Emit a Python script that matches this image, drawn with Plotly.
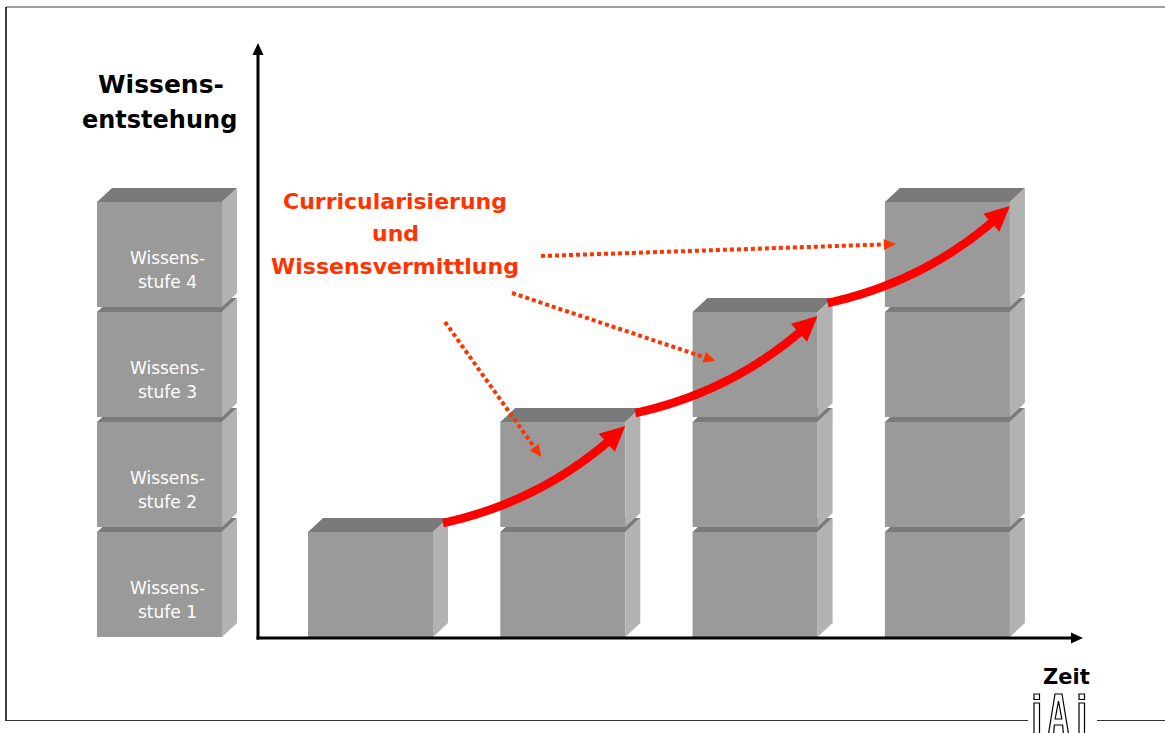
import numpy as np
import plotly.graph_objects as go

# ---------------- data ----------------
time_steps = ["t1", "t2", "t3", "t4"]          # Zeit
levels = [1, 2, 3, 4]                          # Wissensstufen je Zeitschritt
legend_levels = [1, 2, 3, 4]
stufe_prefix = "Wissens-"
stufe_labels = ["stufe 1", "stufe 2", "stufe 3", "stufe 4"]
y_title_lines = ["Wissens-", "entstehung"]
x_title = "Zeit"
process_lines = ["Curricularisierung", "und", "Wissensvermittlung"]
# dotted pointers: (start x, start y, target column index, target offset x, offset y)
pointer_starts = [(445, 322), (512, 293), (541, 256)]
pointer_targets = [(1, 41, 35), (2, 23, 49), (3, 11, 42)]

# ---------------- layout constants (pixels) ----------------
W, H = 1165, 733
BASE_Y = 637
CUBE_W, CUBE_H, DX, DY = 125, 105, 15, 14
PITCH = 110
COL_X0, COL_PITCH = 308, 192.3
LEG_X = 97
FRONT, TOP, SIDE = "#9a9a9a", "#7a7a7a", "#b2b2b2"
RED, ORANGE = "#ff0000", "#ff3300"
FONT = "DejaVu Sans"

shapes = []
annotations = []


def front_top(level):
    return BASE_Y - CUBE_H - (level - 1) * PITCH


def cube(x, level):
    ft = front_top(level)
    fb = ft + CUBE_H
    shapes.append(dict(type="rect", x0=x, x1=x + CUBE_W, y0=ft, y1=fb,
                       fillcolor=FRONT, line=dict(width=0)))
    shapes.append(dict(type="path",
                       path=f"M {x} {ft} L {x+CUBE_W} {ft} L {x+CUBE_W+DX} {ft-DY} L {x+DX} {ft-DY} Z",
                       fillcolor=TOP, line=dict(width=0)))
    shapes.append(dict(type="path",
                       path=f"M {x+CUBE_W} {ft} L {x+CUBE_W+DX} {ft-DY} L {x+CUBE_W+DX} {fb-DY} L {x+CUBE_W} {fb} Z",
                       fillcolor=SIDE, line=dict(width=0)))


def head(tip, d, length, width, color):
    d = np.asarray(d, float)
    d = d / np.linalg.norm(d)
    n = np.array([-d[1], d[0]])
    b = np.asarray(tip) - d * length
    c1 = b + n * width / 2
    c2 = b - n * width / 2
    shapes.append(dict(type="path",
                       path=f"M {tip[0]} {tip[1]} L {c1[0]:.2f} {c1[1]:.2f} L {c2[0]:.2f} {c2[1]:.2f} Z",
                       fillcolor=color, line=dict(width=0)))


def text(x, baseline, s, size, color, bold=False, xanchor="center"):
    annotations.append(dict(x=x, y=baseline - 0.35 * size, xref="x", yref="y",
                            text=f"<b>{s}</b>" if bold else s, showarrow=False,
                            xanchor=xanchor, yanchor="middle",
                            font=dict(family=FONT, size=size, color=color)))


# frame
shapes.append(dict(type="line", x0=6, x1=W, y0=7, y1=7, line=dict(color="#7f7f7f", width=1.5)))
shapes.append(dict(type="line", x0=6, x1=6, y0=7, y1=721, line=dict(color="#000000", width=1.5)))
shapes.append(dict(type="line", x0=6, x1=1028, y0=720.5, y1=720.5, line=dict(color="#333333", width=1)))
shapes.append(dict(type="line", x0=1097, x1=W, y0=720.5, y1=720.5, line=dict(color="#333333", width=1)))

# legend stack (left)
for lv in legend_levels:
    cube(LEG_X, lv)

# columns
col_x = [COL_X0 + i * COL_PITCH for i in range(len(time_steps))]
for i, n in enumerate(levels):
    for lv in range(1, n + 1):
        cube(col_x[i], lv)

# axes arrows
shapes.append(dict(type="line", x0=258, x1=258, y0=639.5, y1=54, line=dict(color="black", width=3)))
head((258, 43), (0, -1), 12, 11, "black")
shapes.append(dict(type="line", x0=256.5, x1=1072, y0=638, y1=638, line=dict(color="black", width=3)))
head((1083, 638), (1, 0), 12, 11, "black")

# red curved arrows between column tops
for i in range(len(levels) - 1):
    xr = col_x[i] + CUBE_W
    p0 = np.array([xr + 10, front_top(levels[i]) - 9])
    tip = np.array([col_x[i + 1] + CUBE_W, front_top(levels[i + 1]) + 4])
    c = np.array([tip[0] - 77, tip[1] + 74])
    t = np.linspace(0, 1, 120)[:, None]
    pts = (1 - t) ** 2 * p0 + 2 * t * (1 - t) * c + t ** 2 * tip
    dist = np.linalg.norm(pts - tip, axis=1)
    L = 25
    base_idx = np.argmin(np.abs(dist - L))
    d = tip - pts[base_idx]
    line_pts = pts[dist >= L * 0.8]
    path = "M " + " L ".join(f"{x:.2f} {y:.2f}" for x, y in line_pts)
    shapes.append(dict(type="path", path=path, line=dict(color=RED, width=8.5)))
    head(tip, d, L, 24, RED)

# dotted pointers
for (sx, sy), (ci, ox, oy) in zip(pointer_starts, pointer_targets):
    tip = np.array([col_x[ci] + ox, front_top(levels[ci]) + oy], float)
    s = np.array([sx, sy], float)
    d = tip - s
    u = d / np.linalg.norm(d)
    e = tip - u * 10
    shapes.append(dict(type="line", x0=sx, y0=sy, x1=e[0], y1=e[1],
                       line=dict(color=ORANGE, width=4, dash="4px,3px")))
    head(tip, d, 12, 11, ORANGE)

# logo iAi (outlined)
logo_style = dict(fillcolor="white", line=dict(color="black", width=1.2))
shapes.append(dict(type="rect", x0=1034, x1=1039.5, y0=694, y1=699.5, **logo_style))
shapes.append(dict(type="rect", x0=1034, x1=1039.5, y0=703, y1=740, **logo_style))
shapes.append(dict(type="path",
                   path="M 1047.5 740 L 1055 694 L 1062 694 L 1069.5 740 L 1064 740 L 1062.6 725 L 1054.4 725 L 1053 740 Z",
                   **logo_style))
shapes.append(dict(type="path", path="M 1058.5 701 L 1055.2 719 L 1061.8 719 Z", **logo_style))
shapes.append(dict(type="rect", x0=1079, x1=1084.5, y0=694, y1=699.5, **logo_style))
shapes.append(dict(type="rect", x0=1079, x1=1084.5, y0=703, y1=740, **logo_style))

# texts
text(161, 93, y_title_lines[0], 25, "black", bold=True)
text(159, 128, y_title_lines[1], 24, "black", bold=True)
for k, (s, b) in enumerate(zip(process_lines, [209, 241.5, 274])):
    text(395, b, s, 22, ORANGE, bold=True)
text(1066.5, 684, x_title, 21, "black", bold=True)
for lv, lab in zip(legend_levels, stufe_labels):
    ft = front_top(lv)
    cx = LEG_X + (CUBE_W + DX) / 2
    text(cx, ft + 62, stufe_prefix, 17, "white")
    text(cx, ft + 86, lab, 17, "white")

fig = go.Figure()
fig.add_trace(go.Scatter(x=[0], y=[0], mode="markers", marker=dict(opacity=0),
                         hoverinfo="skip", showlegend=False))
fig.update_layout(
    width=W, height=H, margin=dict(l=0, r=0, t=0, b=0),
    paper_bgcolor="white", plot_bgcolor="white",
    xaxis=dict(range=[0, W], visible=False, fixedrange=True),
    yaxis=dict(range=[H, 0], visible=False, fixedrange=True),
    shapes=shapes, annotations=annotations, showlegend=False,
)
fig.write_html("out.html")
